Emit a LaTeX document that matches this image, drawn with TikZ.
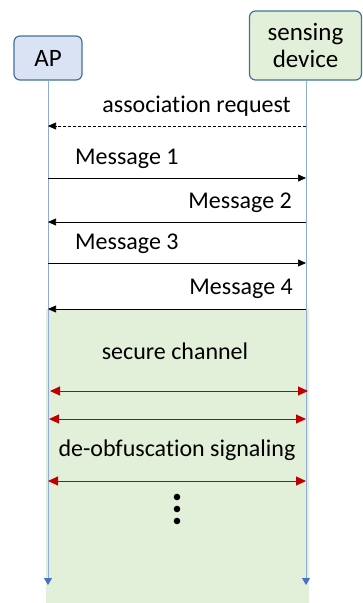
\documentclass[tikz,border=0pt]{standalone}
\usepackage{fontspec}
\setmainfont{Carlito}[Ligatures={NoCommon}]
\usetikzlibrary{arrows.meta}
\definecolor{apfill}{HTML}{DAE3F3}
\definecolor{sdfill}{HTML}{E2F0D9}
\definecolor{boxline}{HTML}{41719C}
\definecolor{life}{HTML}{8FAADC}
\definecolor{lifetip}{HTML}{4472C4}
\definecolor{redline}{HTML}{C00000}
\tikzset{
  actor/.style={draw=boxline, line width=1.2pt, rounded corners=6pt, align=center, inner sep=0pt},
  lbl/.style={font=\fontsize{24}{28}\selectfont, inner sep=0pt},
  msg/.style={-{Triangle[length=8pt,width=7pt]}, line width=0.6pt},
  sec/.style={{Triangle[length=10pt,width=9pt]}-{Triangle[length=10pt,width=9pt]}, draw=redline, line width=1pt},
  lifeline/.style={draw=life, line width=0.8pt, -{Triangle[length=7pt,width=8pt,fill=lifetip,color=lifetip]}},
}
\begin{document}
\begin{tikzpicture}[x=1pt,y=-1pt]
\useasboundingbox (0,0) rectangle (362,603);
% green secure region
\fill[sdfill] (46,309) rectangle (309,603);
% actors
\node[actor, fill=apfill, minimum width=68pt, minimum height=44pt, font=\fontsize{25}{29}\selectfont] (ap) at (48,58) {AP};
\node[actor, fill=sdfill, minimum width=112pt, minimum height=69pt, font=\fontsize{25}{27}\selectfont] (sd) at (305.5,45.5) {sensing\\device};
% lifeline ends
\coordinate (apend) at (48,585);
\coordinate (sdend) at (306,585);
\draw[lifeline] (ap.south) -- (apend);
\draw[lifeline] (sd.south -| sdend) -- (sdend);
% messages
\coordinate (a0) at (48,126); \coordinate (b0) at (306,126);
\coordinate (a1) at (48,178); \coordinate (b1) at (306,178);
\coordinate (a2) at (48,222); \coordinate (b2) at (306,222);
\coordinate (a3) at (48,263); \coordinate (b3) at (306,263);
\coordinate (a4) at (48,309); \coordinate (b4) at (306,309);
\draw[msg, dashed, dash pattern=on 3pt off 2pt] (b0) -- (a0);
\draw[msg] (a1) -- (b1);
\draw[msg] (b2) -- (a2);
\draw[msg] (a3) -- (b3);
\draw[msg] (b4) -- (a4);
\node[lbl, anchor=east] (t0) at (291,106) {association request};
\node[lbl, anchor=west] (t1) at (75,159) {Message 1};
\node[lbl, anchor=east] (t2) at (292,203) {Message 2};
\node[lbl, anchor=west] (t3) at (75,244) {Message 3};
\node[lbl, anchor=east] (t4) at (293,289) {Message 4};
% secure channel
\node[lbl] (sc) at (175,351) {secure channel};
\coordinate (r1a) at (50,391); \coordinate (r1b) at (308,391);
\coordinate (r2a) at (49,419); \coordinate (r2b) at (306,419);
\coordinate (r3a) at (48,481); \coordinate (r3b) at (306,481);
\draw[sec] (r1a) -- (r1b);
\draw[sec] (r2a) -- (r2b);
\node[lbl] (deo) at (177,450) {de-obfuscation signaling};
\draw[sec] (r3a) -- (r3b);
\fill (177,497) circle (3.3pt);
\fill (177,509) circle (3.3pt);
\fill (177,521) circle (3.3pt);
\end{tikzpicture}
\end{document}
